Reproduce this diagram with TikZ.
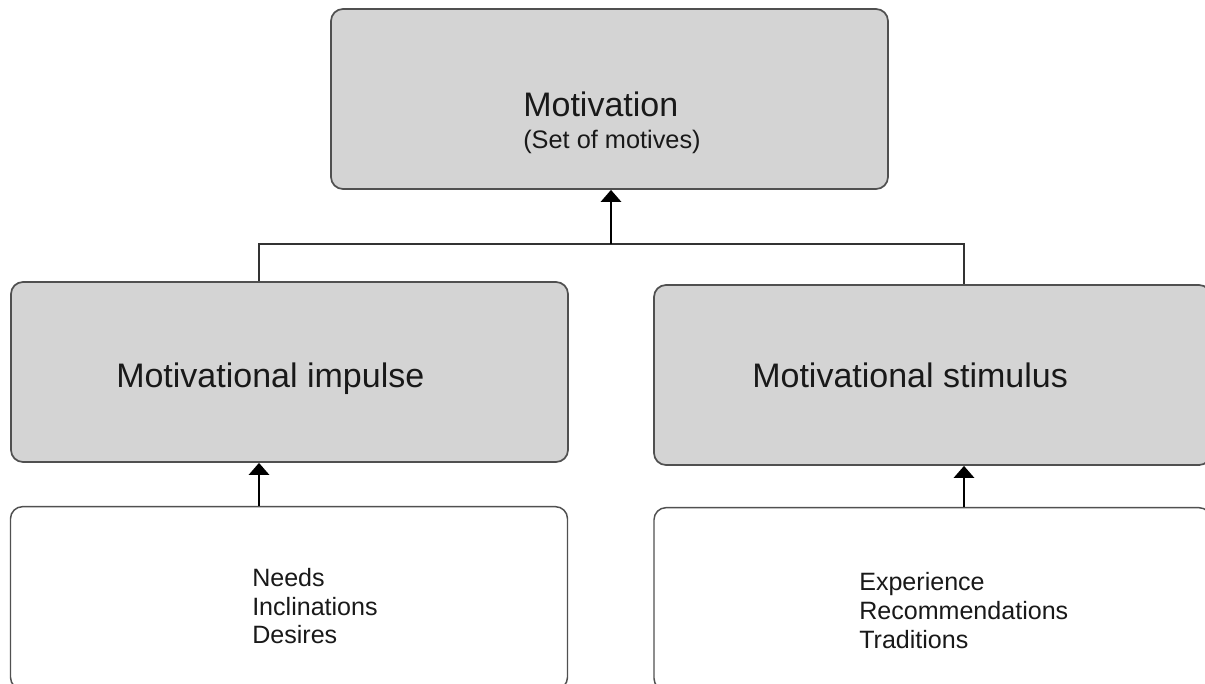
\documentclass[tikz,border=0pt]{standalone}
\usepackage{fontspec}
\setmainfont{Liberation Sans}
\usetikzlibrary{arrows.meta}
\definecolor{boxgray}{HTML}{D4D4D4}
\definecolor{edgegray}{HTML}{505050}
\begin{document}
\begin{tikzpicture}[x=0.75pt,y=-0.75pt,
  graybox/.style={draw=edgegray,line width=1.3pt,fill=boxgray,rounded corners=9pt,
    minimum width=417.75pt,minimum height=135pt,inner sep=0pt},
  whitebox/.style={draw=edgegray,line width=1.1pt,fill=white,rounded corners=9pt,
    minimum width=417.75pt,minimum height=137pt,inner sep=0pt},
  bigtext/.style={anchor=base west,inner sep=0pt,font=\fontsize{25.5}{30}\selectfont,text=black!90},
  subtext/.style={anchor=base west,inner sep=0pt,font=\fontsize{19}{22}\selectfont,text=black!90},
  listtext/.style={anchor=base west,inner sep=0pt,font=\fontsize{18.8}{22}\selectfont,text=black!90},
  arr/.style={line width=2.2pt,-{Triangle[width=15pt,length=9pt]}},
  link/.style={draw=black!80,line width=1.1pt}]
\useasboundingbox (0,0) rectangle (1205,683);
\clip (0,0) rectangle (1205,683);
\fill[white] (0,0) rectangle (1205,683);
% boxes
\node[graybox] (top) at (609.5,99) {};
\node[graybox] (ml) at (289.5,372) {};
\node[graybox] (mr) at (932.5,375) {};
\node[whitebox] (bl) at (289,598) {};
\node[whitebox] (br) at (932.5,599) {};
% texts
\node[bigtext] (t1) at (523,116.5) {Motivation};
\node[subtext] (t2) at (523,148) {(Set of motives)};
\node[bigtext] (t3) at (116,387) {Motivational impulse};
\node[bigtext] (t4) at (752,387) {Motivational stimulus};
\node[listtext] (l1) at (252,586) {Needs};
\node[listtext] (l2) at (252,615) {Inclinations};
\node[listtext] (l3) at (252,643.5) {Desires};
\node[listtext] (r1) at (859,590) {Experience};
\node[listtext] (r2) at (859,619) {Recommendations};
\node[listtext] (r3) at (859,648) {Traditions};
% connector coordinates
\coordinate (lx) at (259,0);
\coordinate (rx) at (964,0);
\coordinate (cx) at (611,0);
\coordinate (jy) at (0,244);
\coordinate (jl) at (259,244);
\coordinate (jr) at (964,244);
\coordinate (jc) at (611,244);
% connectors
\draw[link] (ml.north -| lx) -- (jl) -- (jr) -- (mr.north -| rx);
\draw[arr] (jc) -- (top.south -| cx);
\draw[arr] (bl.north -| lx) -- (ml.south -| lx);
\draw[arr] (br.north -| rx) -- (mr.south -| rx);
\end{tikzpicture}
\end{document}
